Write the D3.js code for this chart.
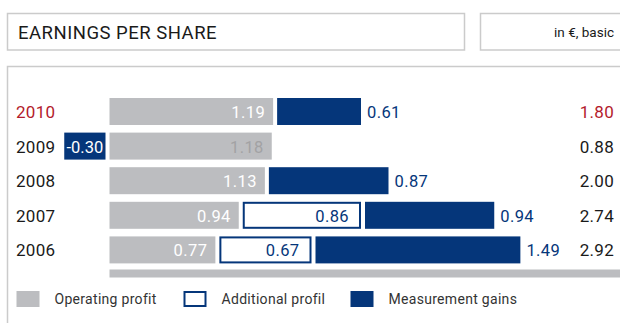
<!DOCTYPE html>
<html>
<head>
<meta charset="utf-8">
<script src="https://cdn.jsdelivr.net/npm/d3@7/dist/d3.min.js"></script>
<style>
  html, body { margin: 0; padding: 0; background: #fff; }
  svg { display: block; font-family: Roboto, "DejaVu Sans", sans-serif; }
</style>
</head>
<body>
<svg id="chart" width="620" height="323"></svg>
<script>
// Earnings per share, in €, basic
const years = ["2010", "2009", "2008", "2007", "2006"];
const operatingProfit = [1.19, 1.18, 1.13, 0.94, 0.77];
const additionalProfit = [0, 0, 0, 0.86, 0.67];
const measurementGains = [0.61, -0.30, 0.87, 0.94, 1.49];
const totals = ["1.80", "0.88", "2.00", "2.74", "2.92"];
const legendLabels = ["Operating profit", "Additional profil", "Measurement gains"];

const GREY = "#bcbdc0", NAVY = "#05367a", RED = "#b31b2b", DARK = "#1a1a1a", BORDER = "#cbcbcb";

const svg = d3.select("#chart");

// header boxes
svg.append("rect").attr("x", 7.5).attr("y", 13.5).attr("width", 457).attr("height", 36.5)
  .attr("fill", "#fff").attr("stroke", BORDER).attr("stroke-width", 1.5);
svg.append("text").attr("x", 18).attr("y", 39).attr("font-size", 18.5).attr("letter-spacing", 0.5)
  .attr("fill", DARK).text("EARNINGS PER SHARE");
svg.append("rect").attr("x", 480.5).attr("y", 13.5).attr("width", 160).attr("height", 36.5)
  .attr("fill", "#fff").attr("stroke", BORDER).attr("stroke-width", 1.5);
svg.append("text").attr("x", 614).attr("y", 37).attr("font-size", 13.5).attr("fill", DARK)
  .attr("text-anchor", "end").text("in €, basic");

// panel frame
svg.append("path").attr("d", "M7.5,330 V66.5 H640").attr("fill", "none")
  .attr("stroke", BORDER).attr("stroke-width", 1.5);

// scales
const x0 = 109.5, gap = 4;
const w = d3.scaleLinear().domain([0, 1]).range([0, 137.5]);
const y = d3.scaleBand().domain(years).range([98, 263.4]).paddingInner(0.22).paddingOuter(0);
const bh = y.bandwidth();

const rows = years.map((yr, i) => {
  const op = operatingProfit[i], add = additionalProfit[i], m = measurementGains[i];
  const opEnd = x0 + w(op);
  const addStart = opEnd + gap;
  const addEnd = add > 0 ? addStart + w(add) : opEnd;
  const mStart = m > 0 ? addEnd + gap : x0 - gap - w(-m);
  const mEnd = m > 0 ? mStart + w(m) : x0 - gap;
  return { yr, i, op, add, m, opEnd, addStart, addEnd, mStart, mEnd, top: y(yr) };
});

const g = svg.append("g");
const base = d => d.top + bh / 2 + 6.5;

// operating profit bars
g.selectAll("rect.op").data(rows).join("rect").attr("class", "op")
  .attr("x", x0).attr("y", d => d.top).attr("width", d => w(d.op)).attr("height", bh)
  .attr("fill", GREY);
g.selectAll("text.op").data(rows).join("text").attr("class", "op")
  .attr("x", d => d.opEnd - 8).attr("y", base)
  .attr("text-anchor", "end").attr("font-size", 16.5).attr("letter-spacing", 0.4)
  .attr("fill", d => d.yr === "2009" ? "#a2a2a4" : "#fff")
  .text(d => d.op.toFixed(2));

// additional profit (outlined)
const addRows = rows.filter(d => d.add > 0);
g.selectAll("rect.add").data(addRows).join("rect").attr("class", "add")
  .attr("x", d => d.addStart + 1).attr("y", d => d.top + 1)
  .attr("width", d => w(d.add) - 2).attr("height", bh - 2)
  .attr("fill", "#fff").attr("stroke", NAVY).attr("stroke-width", 2);
g.selectAll("text.add").data(addRows).join("text").attr("class", "add")
  .attr("x", d => d.addEnd - 12).attr("y", base)
  .attr("text-anchor", "end").attr("font-size", 16.5).attr("letter-spacing", 0.4)
  .attr("fill", NAVY)
  .text(d => d.add.toFixed(2));

// measurement gains
g.selectAll("rect.m").data(rows).join("rect").attr("class", "m")
  .attr("x", d => d.mStart).attr("y", d => d.top).attr("width", d => d.mEnd - d.mStart).attr("height", bh)
  .attr("fill", NAVY);
g.selectAll("text.m").data(rows).join("text").attr("class", "m")
  .attr("x", d => d.m > 0 ? d.mEnd + 6 : (d.mStart + d.mEnd) / 2)
  .attr("y", base)
  .attr("text-anchor", d => d.m > 0 ? "start" : "middle")
  .attr("font-size", 16.5).attr("letter-spacing", d => d.m > 0 ? 0.4 : 0)
  .attr("fill", d => d.m > 0 ? NAVY : "#fff")
  .text(d => d.m.toFixed(2));

// year labels
g.selectAll("text.yr").data(rows).join("text").attr("class", "yr")
  .attr("x", 16).attr("y", base).attr("font-size", 17).attr("letter-spacing", 0.3)
  .attr("fill", d => d.i === 0 ? RED : DARK).text(d => d.yr);

// totals
g.selectAll("text.tot").data(rows).join("text").attr("class", "tot")
  .attr("x", 614).attr("y", base).attr("text-anchor", "end")
  .attr("font-size", 17).attr("letter-spacing", 0.3).attr("fill", d => d.i === 0 ? RED : DARK)
  .text(d => totals[d.i]);

// baseline bar
svg.append("rect").attr("x", x0).attr("y", 269.5).attr("width", 640 - x0).attr("height", 8).attr("fill", GREY);

// legend
const legendX = [16.5, 183.5, 350.5];
const lg = svg.selectAll("g.lg").data(legendLabels).join("g").attr("class", "lg")
  .attr("transform", (d, i) => `translate(${legendX[i]},291)`);
lg.append("rect").attr("x", (d, i) => i === 1 ? 1 : 0).attr("y", (d, i) => i === 1 ? 1 : 0)
  .attr("width", (d, i) => i === 1 ? 21 : 23).attr("height", (d, i) => i === 1 ? 14 : 16)
  .attr("fill", (d, i) => i === 0 ? GREY : i === 1 ? "#fff" : NAVY)
  .attr("stroke", (d, i) => i === 1 ? NAVY : "none").attr("stroke-width", 2);
lg.append("text").attr("x", 38).attr("y", 13).attr("font-size", 14).attr("letter-spacing", 0.3)
  .attr("fill", "#333").text(d => d);
</script>
</body>
</html>
